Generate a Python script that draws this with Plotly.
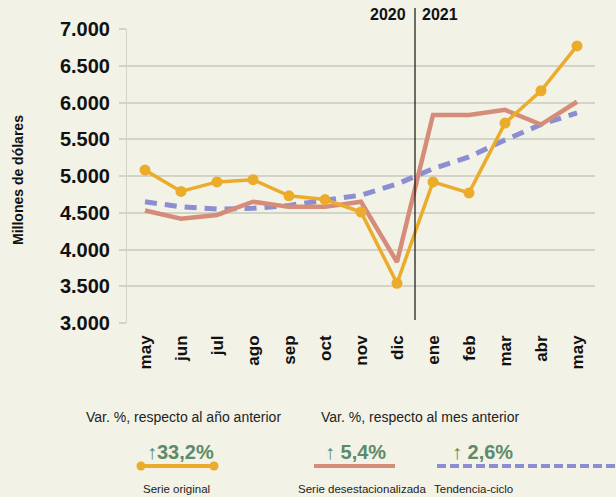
import plotly.graph_objects as go

meses = ["may", "jun", "jul", "ago", "sep", "oct", "nov", "dic",
         "ene", "feb", "mar", "abr", "may"]
serie_original = [5080, 4790, 4920, 4950, 4730, 4680, 4510, 3540,
                  4920, 4770, 5720, 6160, 6770]
serie_desest = [4530, 4420, 4470, 4650, 4580, 4580, 4650, 3830,
                5830, 5830, 5900, 5700, 6010]
tendencia = [4650, 4580, 4550, 4560, 4600, 4670, 4740, 4890,
             5100, 5260, 5490, 5700, 5860]
y_ticks = [3000, 3500, 4000, 4500, 5000, 5500, 6000, 6500, 7000]
y_ticklabels = ["3.000", "3.500", "4.000", "4.500", "5.000", "5.500",
                "6.000", "6.500", "7.000"]

BG = "#F2F2E6"
GRID = "#D3D3C8"
ORANGE = "#EBAB2B"
PINK = "#D58D79"
BLUE = "#8B8ED1"
GREEN = "#5E8A69"
FONT = "Liberation Sans, Arial, sans-serif"
BOLD = "Liberation Sans, Arial, sans-serif"

x = list(range(len(meses)))

fig = go.Figure()
fig.add_trace(go.Scatter(x=x, y=tendencia, mode="lines",
                         line=dict(color=BLUE, width=5, dash="12px,8px")))
fig.add_trace(go.Scatter(x=x, y=serie_desest, mode="lines",
                         line=dict(color=PINK, width=4.5)))
fig.add_trace(go.Scatter(x=x, y=serie_original, mode="lines+markers",
                         line=dict(color=ORANGE, width=3.5),
                         marker=dict(color=ORANGE, size=11)))

W, H = 616, 497
L, R, T, B = 127, 595, 29, 323


def px(xp):
    return (xp - L) / (R - L)


def py(yp):
    return (B - yp) / (B - T)


ann = []
ann.append(dict(x=px(18), y=py(180), xref="paper", yref="paper",
                xanchor="center", yanchor="middle",
                text="<b>Millones de dólares</b>", textangle=-90,
                showarrow=False, font=dict(family=BOLD, size=14, color="#111")))
ann.append(dict(x=7.5, y=py(15), xref="x", yref="paper", xanchor="right",
                yanchor="middle", xshift=-7, text="<b>2020</b>", showarrow=False,
                font=dict(family=BOLD, size=16, color="#111")))
ann.append(dict(x=7.5, y=py(15), xref="x", yref="paper", xanchor="left",
                yanchor="middle", xshift=5, text="<b>2021</b>", showarrow=False,
                font=dict(family=BOLD, size=16, color="#111")))

ann.append(dict(x=px(183), y=py(417), xref="paper", yref="paper",
                xanchor="center", yanchor="middle",
                text="Var. %, respecto al año anterior", showarrow=False,
                font=dict(family=FONT, size=14, color="#222")))
ann.append(dict(x=px(420), y=py(417), xref="paper", yref="paper",
                xanchor="center", yanchor="middle",
                text="Var. %, respecto al mes anterior", showarrow=False,
                font=dict(family=FONT, size=14, color="#222")))
for xc, t in [(180, "↑33,2%"), (355, "↑ 5,4%"), (482, "↑ 2,6%")]:
    ann.append(dict(x=px(xc), y=py(452), xref="paper", yref="paper",
                    xanchor="center", yanchor="middle",
                    text="<b>" + t + "</b>", showarrow=False,
                    font=dict(family=FONT, size=20, color=GREEN)))
for xc, t, anc in [(176, "Serie original", "center"),
                   (362, "Serie desestacionalizada", "center"),
                   (432, "Tendencia-ciclo", "left")]:
    ann.append(dict(x=px(xc), y=py(489), xref="paper", yref="paper",
                    text=t, showarrow=False, xanchor=anc, yanchor="middle",
                    font=dict(family=FONT, size=11.5, color="#222")))

shapes = []
shapes.append(dict(type="line", xref="x", yref="paper", x0=7.5, x1=7.5,
                   y0=py(320), y1=py(8), line=dict(color="#111", width=1.2)))
shapes.append(dict(type="line", xref="paper", yref="paper",
                   x0=px(141), x1=px(214), y0=py(466), y1=py(466),
                   line=dict(color=ORANGE, width=4)))
for xc in (141, 214):
    shapes.append(dict(type="circle", xref="paper", yref="paper",
                       x0=px(xc - 4.5), x1=px(xc + 4.5),
                       y0=py(466 + 4.5), y1=py(466 - 4.5),
                       fillcolor=ORANGE, line=dict(width=0)))
shapes.append(dict(type="line", xref="paper", yref="paper",
                   x0=px(314), x1=px(395), y0=py(466), y1=py(466),
                   line=dict(color=PINK, width=4)))
shapes.append(dict(type="line", xref="paper", yref="paper",
                   x0=px(437), x1=px(625), y0=py(466), y1=py(466),
                   line=dict(color=BLUE, width=4, dash="9px,4px")))

fig.update_layout(
    width=W, height=H,
    margin=dict(l=L, r=W - R, t=T, b=H - B, autoexpand=False),
    paper_bgcolor=BG, plot_bgcolor=BG,
    showlegend=False,
    annotations=ann, shapes=shapes,
    xaxis=dict(range=[-0.5, 12.5], tickmode="array", tickvals=x,
               ticktext=["<b>" + m + "</b>" for m in meses], tickangle=-90,
               showgrid=False, zeroline=False, showline=False, ticks="",
               ticklabelstandoff=8, automargin=False,
               tickfont=dict(family=BOLD, size=17, color="#111")),
    yaxis=dict(range=[3000, 7000], tickmode="array", tickvals=y_ticks,
               ticktext=["<b>" + t + "</b>" for t in y_ticklabels],
               showgrid=True, gridcolor=GRID, gridwidth=1.5, zeroline=False,
               showline=True, linecolor=GRID, linewidth=1,
               ticks="outside", ticklen=7, tickcolor=GRID, tickwidth=1.5,
               ticklabelstandoff=5, automargin=False,
               tickfont=dict(family=BOLD, size=20, color="#111")),
)

fig.write_html("out.html", config={"displayModeBar": False},
               post_script="document.body.style.margin='0';"
                           "document.body.style.background='" + BG + "';")
